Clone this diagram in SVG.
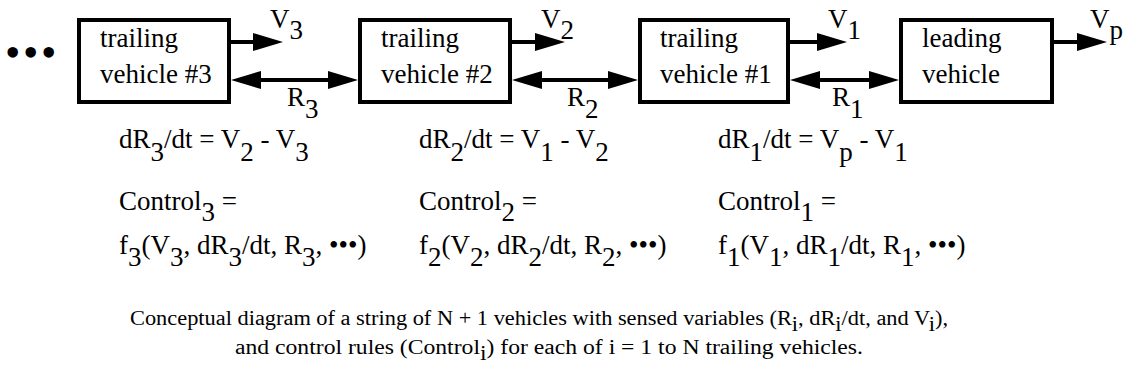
<svg xmlns="http://www.w3.org/2000/svg" width="1126" height="379" viewBox="0 0 1126 379">
<style>
text { font-family: "Liberation Serif", Tinos, "Times New Roman", Times, "DejaVu Serif", serif; fill: #000; }
.t { font-size: 27px; }
.cap { font-size: 20px; }
.box { fill: #fff; stroke: #000; stroke-width: 4; }
.ln { fill: none; stroke: #000; stroke-width: 4; }
</style>
<defs>
<marker id="ah" viewBox="0 0 30 18" refX="20" refY="9" markerWidth="30" markerHeight="18" markerUnits="userSpaceOnUse" orient="auto-start-reverse">
<path d="M0,0 L30,9 L0,18 Z" fill="#000"/>
</marker>
</defs>
<rect width="1126" height="379" fill="#fff"/>
<text id="ellipsis" x="5 23 41" y="67" style="font-size:44px">•••</text>
<g id="connectors">
<path class="ln" d="M231,42 H273" marker-end="url(#ah)"/>
<path class="ln" d="M512,42 H555" marker-end="url(#ah)"/>
<path class="ln" d="M790,42 H837" marker-end="url(#ah)"/>
<path class="ln" d="M1054,42 H1097" marker-end="url(#ah)"/>
<path class="ln" d="M241,80 H348" marker-start="url(#ah)" marker-end="url(#ah)"/>
<path class="ln" d="M522,80 H628" marker-start="url(#ah)" marker-end="url(#ah)"/>
<path class="ln" d="M800,80 H889" marker-start="url(#ah)" marker-end="url(#ah)"/>
<text class="t" x="270" y="28">V<tspan dy="11">3</tspan></text>
<text class="t" x="541" y="28">V<tspan dy="11">2</tspan></text>
<text class="t" x="828" y="28">V<tspan dy="11">1</tspan></text>
<text class="t" x="1090" y="28">V<tspan dy="11">p</tspan></text>
<text class="t" x="287" y="106">R<tspan dy="12">3</tspan></text>
<text class="t" x="567" y="106">R<tspan dy="12">2</tspan></text>
<text class="t" x="832" y="106">R<tspan dy="12">1</tspan></text>
</g>
<g id="vehicle3">
<rect class="box" x="79" y="20" width="150" height="82"/>
<text class="t" x="100" y="47">trailing</text>
<text class="t" x="100" y="83">vehicle #3</text>
</g>
<g id="vehicle2">
<rect class="box" x="360" y="20" width="150" height="82"/>
<text class="t" x="381" y="47">trailing</text>
<text class="t" x="381" y="83">vehicle #2</text>
</g>
<g id="vehicle1">
<rect class="box" x="640" y="20" width="148" height="82"/>
<text class="t" x="660" y="47">trailing</text>
<text class="t" x="660" y="83">vehicle #1</text>
</g>
<g id="leading">
<rect class="box" x="901" y="20" width="151" height="82"/>
<text class="t" x="922" y="47">leading</text>
<text class="t" x="922" y="83">vehicle</text>
</g>
<g id="equations3">
<text class="t" x="119" y="148">dR<tspan dy="13">3</tspan><tspan dy="-13">/dt = V</tspan><tspan dy="13">2</tspan><tspan dy="-13"> - V</tspan><tspan dy="13">3</tspan></text>
<text class="t" x="119" y="210">Control<tspan dy="11">3</tspan><tspan dy="-11"> =</tspan></text>
<text class="t" x="119" y="254">f<tspan dy="12">3</tspan><tspan dy="-12">(V</tspan><tspan dy="12">3</tspan><tspan dy="-12">, dR</tspan><tspan dy="12">3</tspan><tspan dy="-12">/dt, R</tspan><tspan dy="12">3</tspan><tspan dy="-12">, •••)</tspan></text>
</g>
<g id="equations2">
<text class="t" x="419" y="148">dR<tspan dy="13">2</tspan><tspan dy="-13">/dt = V</tspan><tspan dy="13">1</tspan><tspan dy="-13"> - V</tspan><tspan dy="13">2</tspan></text>
<text class="t" x="419" y="210">Control<tspan dy="11">2</tspan><tspan dy="-11"> =</tspan></text>
<text class="t" x="419" y="254">f<tspan dy="12">2</tspan><tspan dy="-12">(V</tspan><tspan dy="12">2</tspan><tspan dy="-12">, dR</tspan><tspan dy="12">2</tspan><tspan dy="-12">/dt, R</tspan><tspan dy="12">2</tspan><tspan dy="-12">, •••)</tspan></text>
</g>
<g id="equations1">
<text class="t" x="718" y="148">dR<tspan dy="13">1</tspan><tspan dy="-13">/dt = V</tspan><tspan dy="13">p</tspan><tspan dy="-13"> - V</tspan><tspan dy="13">1</tspan></text>
<text class="t" x="718" y="210">Control<tspan dy="11">1</tspan><tspan dy="-11"> =</tspan></text>
<text class="t" x="718" y="254">f<tspan dy="12">1</tspan><tspan dy="-12">(V</tspan><tspan dy="12">1</tspan><tspan dy="-12">, dR</tspan><tspan dy="12">1</tspan><tspan dy="-12">/dt, R</tspan><tspan dy="12">1</tspan><tspan dy="-12">, •••)</tspan></text>
</g>
<g id="caption">
<text class="cap" x="130" y="325" textLength="818" lengthAdjust="spacingAndGlyphs">Conceptual diagram of a string of N + 1 vehicles with sensed variables (R<tspan dy="6">i</tspan><tspan dy="-6">, dR</tspan><tspan dy="6">i</tspan><tspan dy="-6">/dt, and V</tspan><tspan dy="6">i</tspan><tspan dy="-6">),</tspan></text>
<text class="cap" x="235" y="354" textLength="628" lengthAdjust="spacingAndGlyphs">and control rules (Control<tspan dy="6">i</tspan><tspan dy="-6">) for each of i = 1 to N trailing vehicles.</tspan></text>
</g>
</svg>
